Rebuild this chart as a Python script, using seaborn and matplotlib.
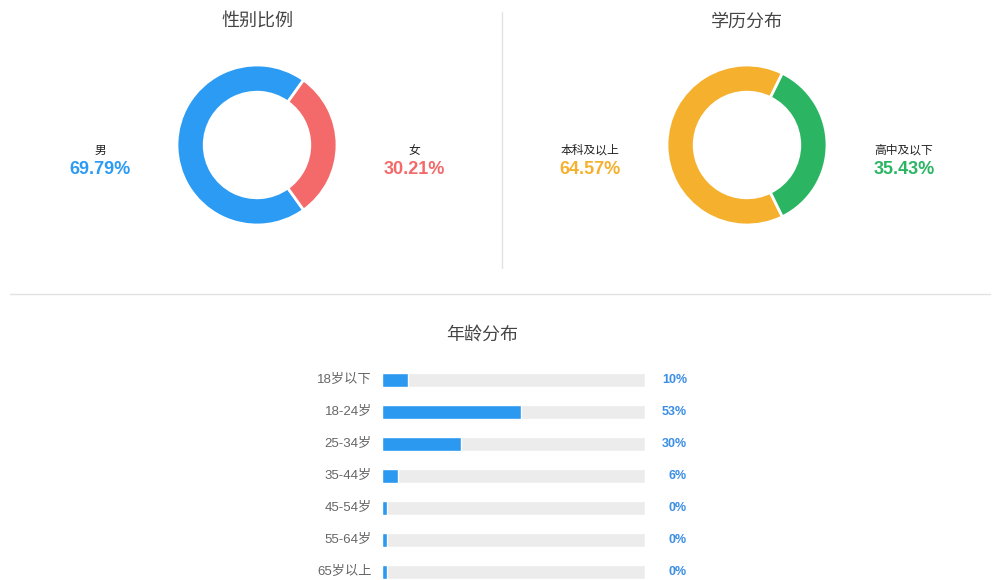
import matplotlib
matplotlib.use("Agg")
import matplotlib.pyplot as plt
import seaborn as sns
import numpy as np
import pandas as pd
from matplotlib.lines import Line2D

# ---- data ----
gender_labels = ["男", "女"]
gender_values = [69.79, 30.21]
gender_colors = ["#2b9bf4", "#f46a6a"]

edu_labels = ["本科及以上", "高中及以下"]
edu_values = [64.57, 35.43]
edu_colors = ["#f5b12e", "#2bb563"]

age_labels = ["18岁以下", "18-24岁", "25-34岁", "35-44岁", "45-54岁", "55-64岁", "65岁以上"]
age_values = [10, 53, 30, 6, 0, 0, 0]

sns.set_theme(style="white")
plt.rcParams['font.family'] = ['Liberation Sans', 'Noto Sans CJK SC', 'DejaVu Sans']
FAM = ['Liberation Sans', 'Noto Sans CJK SC', 'DejaVu Sans']

W, H = 992, 580
fig = plt.figure(figsize=(W / 100, H / 100), dpi=100)
fig.patch.set_facecolor("white")


def px(x, y):
    return x / W, 1 - y / H


def rect(l, t, w, h):
    return [l / W, 1 - (t + h) / H, w / W, h / H]


def donut(cx, cy, values, colors, labels, title, lx, rx):
    ax = fig.add_axes(rect(cx - 100, cy - 100, 200, 200))
    start = values[1] / 100 * 180
    ax.pie(values, colors=colors, startangle=start, counterclock=True,
           radius=1.0, wedgeprops=dict(width=0.34, edgecolor="white", linewidth=2))
    ax.set_xlim(-1.25, 1.25)
    ax.set_ylim(-1.25, 1.25)
    ax.set_aspect("equal")
    fig.text(*px(cx, 22), title, ha="center", va="center", fontsize=13, color="#444", family=FAM)
    for x, lab, val, col in [(lx, labels[0], values[0], colors[0]), (rx, labels[1], values[1], colors[1])]:
        fig.text(*px(x, 151), lab, ha="center", va="center", fontsize=8.5, color="#222", family=FAM)
        fig.text(*px(x, 169), f"{val:.2f}%", ha="center", va="center", fontsize=13,
                 color=col, fontweight="bold", family=FAM)


donut(257, 145, gender_values, gender_colors, gender_labels, "性别比例", 100, 414)
donut(747, 145, edu_values, edu_colors, edu_labels, "学历分布", 590, 904)

# divider lines
fig.add_artist(Line2D([502 / W, 502 / W], [1 - 12 / H, 1 - 268 / H], color="#e3e3e3", lw=1))
fig.add_artist(Line2D([10 / W, 990 / W], [1 - 294 / H, 1 - 294 / H], color="#e3e3e3", lw=1))

fig.text(*px(482, 335), "年龄分布", ha="center", va="center", fontsize=13, color="#444", family=FAM)

# age bars
df = pd.DataFrame({"age": age_labels, "value": age_values,
                   "track": [100] * len(age_labels),
                   "shown": np.maximum(age_values, 2)})
ax = fig.add_axes(rect(382, 364, 263, 216))
sns.barplot(data=df, y="age", x="track", color="#ececec", orient="h", width=0.46,
            ax=ax, saturation=1)
sns.barplot(data=df, y="age", x="shown", color="#2b99f0", orient="h", width=0.46,
            ax=ax, saturation=1)
ax.set_xlim(0, 100)
ax.set_ylim(6.25, -0.5)
ax.axis("off")
for i, (lab, v) in enumerate(zip(age_labels, age_values)):
    ax.text(-3.8, i, lab, ha="right", va="center", fontsize=9.5, color="#666", family=FAM)
    ax.text(116, i, f"{v}%", ha="right", va="center", fontsize=9, color="#3a8ee6",
            fontweight="bold", family=FAM)

fig.savefig("out.png", dpi=100, facecolor="white")
